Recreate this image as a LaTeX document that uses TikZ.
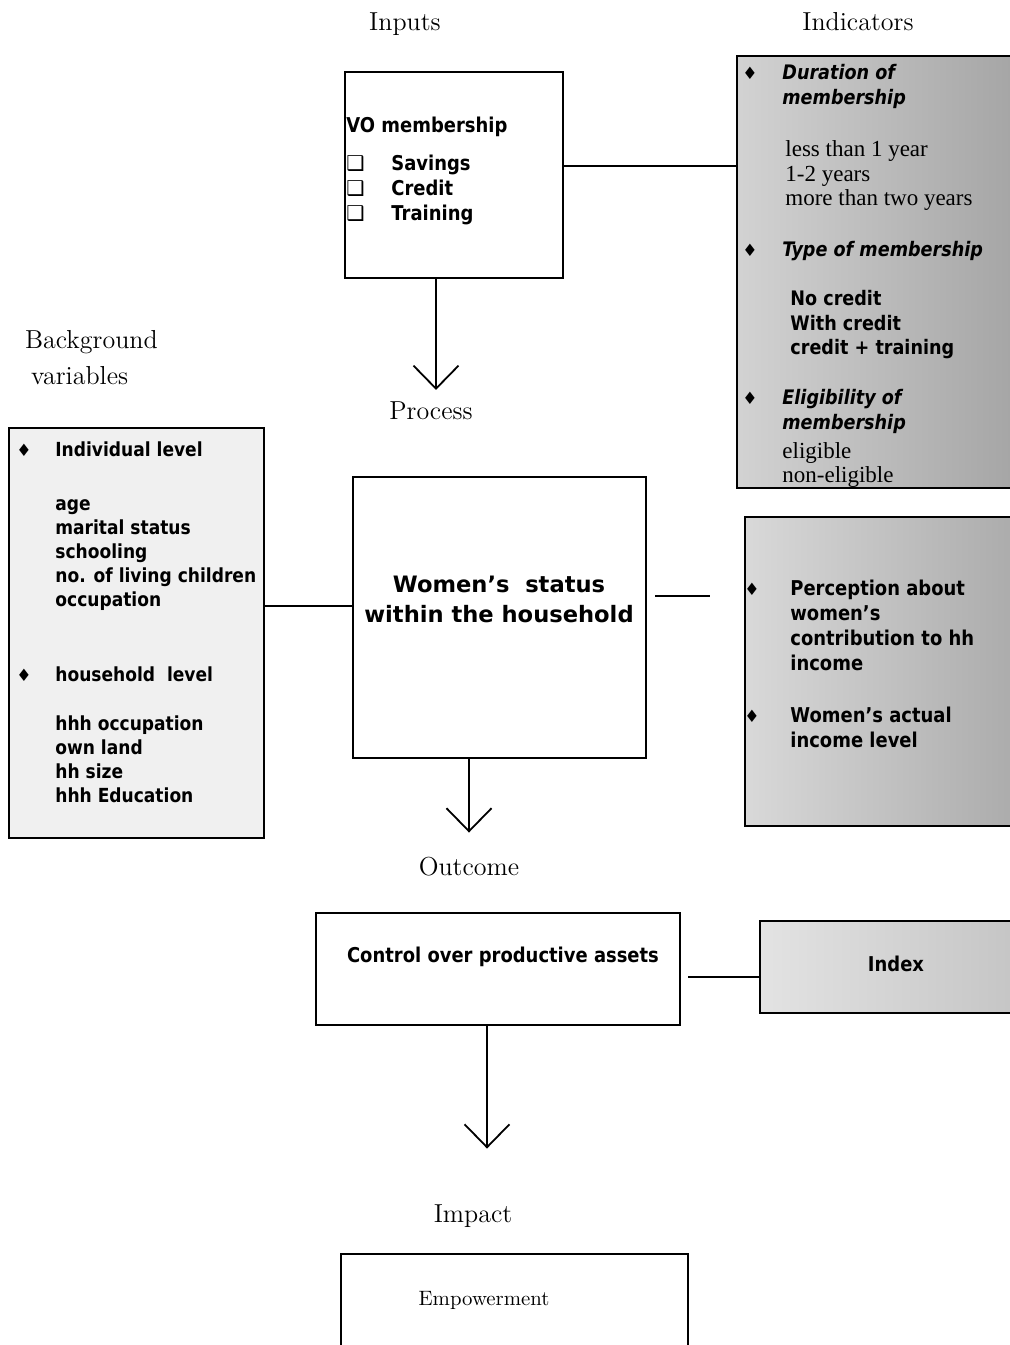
\documentclass[tikz,border=0pt]{standalone}
\usepackage{fontspec}
\usetikzlibrary{arrows.meta}
\newfontfamily\boxfont{DejaVu Sans}[FakeStretch=0.88]
\newfontfamily\wfont{DejaVu Sans}
\newfontfamily\tnrfont{Liberation Serif}
% bullet and check box in front of a list line
\newcommand{\Diam}[1][19.5pt]%
{\makebox[#1][l]{\wfont\mdseries\upshape\fontsize{8.5}{8.5}\selectfont\char"2666}}
\newcommand{\Blank}[1][19.5pt]{\makebox[#1]{}}
\newcommand{\ChkBox}{\makebox[22.5pt][l]{\wfont\mdseries\char"2751}}

\begin{document}
\begin{tikzpicture}
[   x=0.5pt, y=-0.5pt,
    stagebox/.style={draw, line width=0.9pt, inner sep=0, outer sep=0},
    stagelabel/.style={font=\fontsize{13}{18}\selectfont, inner sep=3.33pt},
    txt/.style={align=left, inner sep=0, font=\boxfont\bfseries\fontsize{10.2}{12.5}\selectfont},
    flow/.style={line width=0.9pt, -{Straight Barb[length=11.5pt,width=22.5pt]}},
    link/.style={line width=0.9pt}
]
    \useasboundingbox[fill=white] (0,0) rectangle (1009,1345);

    % stage names
    \node[stagelabel] (inputlbl) at (405,24) {Inputs};
    \node[stagelabel] (indiclbl) at (858,22) {Indicators};
    \node[stagelabel, anchor=west, align=left, font=\fontsize{13}{18}\selectfont]
        (bglbl) at (18,358) {Background\\\hspace*{3pt}variables};
    \node[stagelabel] (process) at (431,411) {Process};
    \node[stagelabel] (outcome) at (469,867) {Outcome};
    \node[stagelabel] (impact) at (473,1216) {Impact};

    % boxes
    \node[stagebox, minimum width=109pt, minimum height=103pt] (inputs) at (454,175) {};
    \node[stagebox, minimum width=137.5pt, minimum height=216pt,
          left color=gray!35, right color=gray!70] (indic) at (874.5,272) {};
    \node[stagebox, minimum width=127.5pt, minimum height=205pt, fill=gray!12]
        (backgr) at (136.5,633) {};
    \node[stagebox, minimum width=146.5pt, minimum height=140.5pt] (status) at (499.5,617.5) {};
    \node[stagebox, minimum width=133.5pt, minimum height=154.5pt,
          left color=gray!30, right color=gray!65] (percep) at (878.5,671.5) {};
    \node[stagebox, minimum width=182pt, minimum height=56pt] (control) at (498,969) {};
    \node[stagebox, minimum width=126pt, minimum height=46pt,
          left color=gray!22, right color=gray!45] (index) at (886,967) {};
    \node[stagebox, minimum width=173.5pt, minimum height=53pt] (empower) at (514.5,1307) {};

    % box texts
    \node[txt, anchor=west] (inputstext) at (346,171)
        {VO membership\\[6.5pt]
         \ChkBox Savings\\ \ChkBox Credit\\ \ChkBox Training};
    \node[txt, anchor=west, font=\boxfont\bfseries\fontsize{10}{12.25}\selectfont]
        (indictext) at (742,276)
        {\Diam[20pt]\textit{Duration of}\\
         \Blank[20pt]\textit{membership}\\[14pt]
         \Blank[21.5pt]{\tnrfont\mdseries\fontsize{11.5}{12.25}\selectfont less than 1 year}\\
         \Blank[21.5pt]{\tnrfont\mdseries\fontsize{11.5}{12.25}\selectfont 1-2 years}\\
         \Blank[21.5pt]{\tnrfont\mdseries\fontsize{11.5}{12.25}\selectfont more than two years}\\[13.25pt]
         \Diam[20pt]\textit{Type of membership}\\[12.25pt]
         \Blank[24pt]No credit\\
         \Blank[24pt]With credit\\
         \Blank[24pt]credit + training\\[12.75pt]
         \Diam[20pt]\textit{Eligibility of}\\
         \Blank[20pt]\textit{membership}\\[2.25pt]
         \Blank[20pt]{\tnrfont\mdseries\fontsize{11.5}{12.25}\selectfont eligible}\\
         \Blank[20pt]{\tnrfont\mdseries\fontsize{11.5}{12.25}\selectfont non-eligible}};
    \node[txt, anchor=west, font=\boxfont\bfseries\fontsize{9.7}{12}\selectfont]
        (bgtext) at (16,622)
        {\Diam Individual level\\[15pt]
         \Blank age\\ \Blank marital status\\ \Blank schooling\\
         \Blank no. of living children\\ \Blank occupation\\[25.5pt]
         \Diam household\ \ level\\[12.5pt]
         \Blank hhh occupation\\ \Blank own land\\ \Blank hh size\\
         \Blank hhh Education};
    \node[align=center, inner sep=0, font=\wfont\bfseries\fontsize{11.3}{15}\selectfont]
        (statustext) at (499,599) {Women’s\ \ status\\within the household};
    \node[txt, anchor=west] (perceptext) at (744,664)
        {\Diam[23pt]Perception about\\
         \Blank[23pt]women’s\\
         \Blank[23pt]contribution to hh\\
         \Blank[23pt]income\\[13.5pt]
         \Diam[23pt]Women’s actual\\
         \Blank[23pt]income level};
    \node[txt] (controltext) at (503,957) {Control over productive assets};
    \node[txt] (indextext) at (896,964) {Index};
    \node[inner sep=0, font=\fontsize{10.4}{12}\selectfont] (empowertext) at (484,1300) {Empowerment};

    % connectors
    \draw[link] ([yshift=4.5pt]inputs.east) -- ([yshift=4.5pt]inputs.east -| indic.west);
    \draw[link] ([yshift=5.75pt]status.west) -- ([yshift=5.75pt]status.west -| backgr.east);
    \coordinate (statusend) at (710,596);
    \draw[link] (statusend -| status.east) ++(9,0) -- (statusend);
    \draw[link] ([xshift=4pt,yshift=-4pt]control.east) -- ([yshift=-4pt]control.east -| index.west);

    \draw[flow, shorten >=2.5pt] ([xshift=-9pt]inputs.south) -- ([xshift=-9pt]inputs.south |- process.north);
    \draw[flow, shorten >=9pt] (outcome |- status.south) -- (outcome.north);
    \draw[flow, shorten >=24.5pt] ([xshift=-5.5pt]control.south) -- ([xshift=-5.5pt]control.south |- impact.north);
\end{tikzpicture}
\end{document}
